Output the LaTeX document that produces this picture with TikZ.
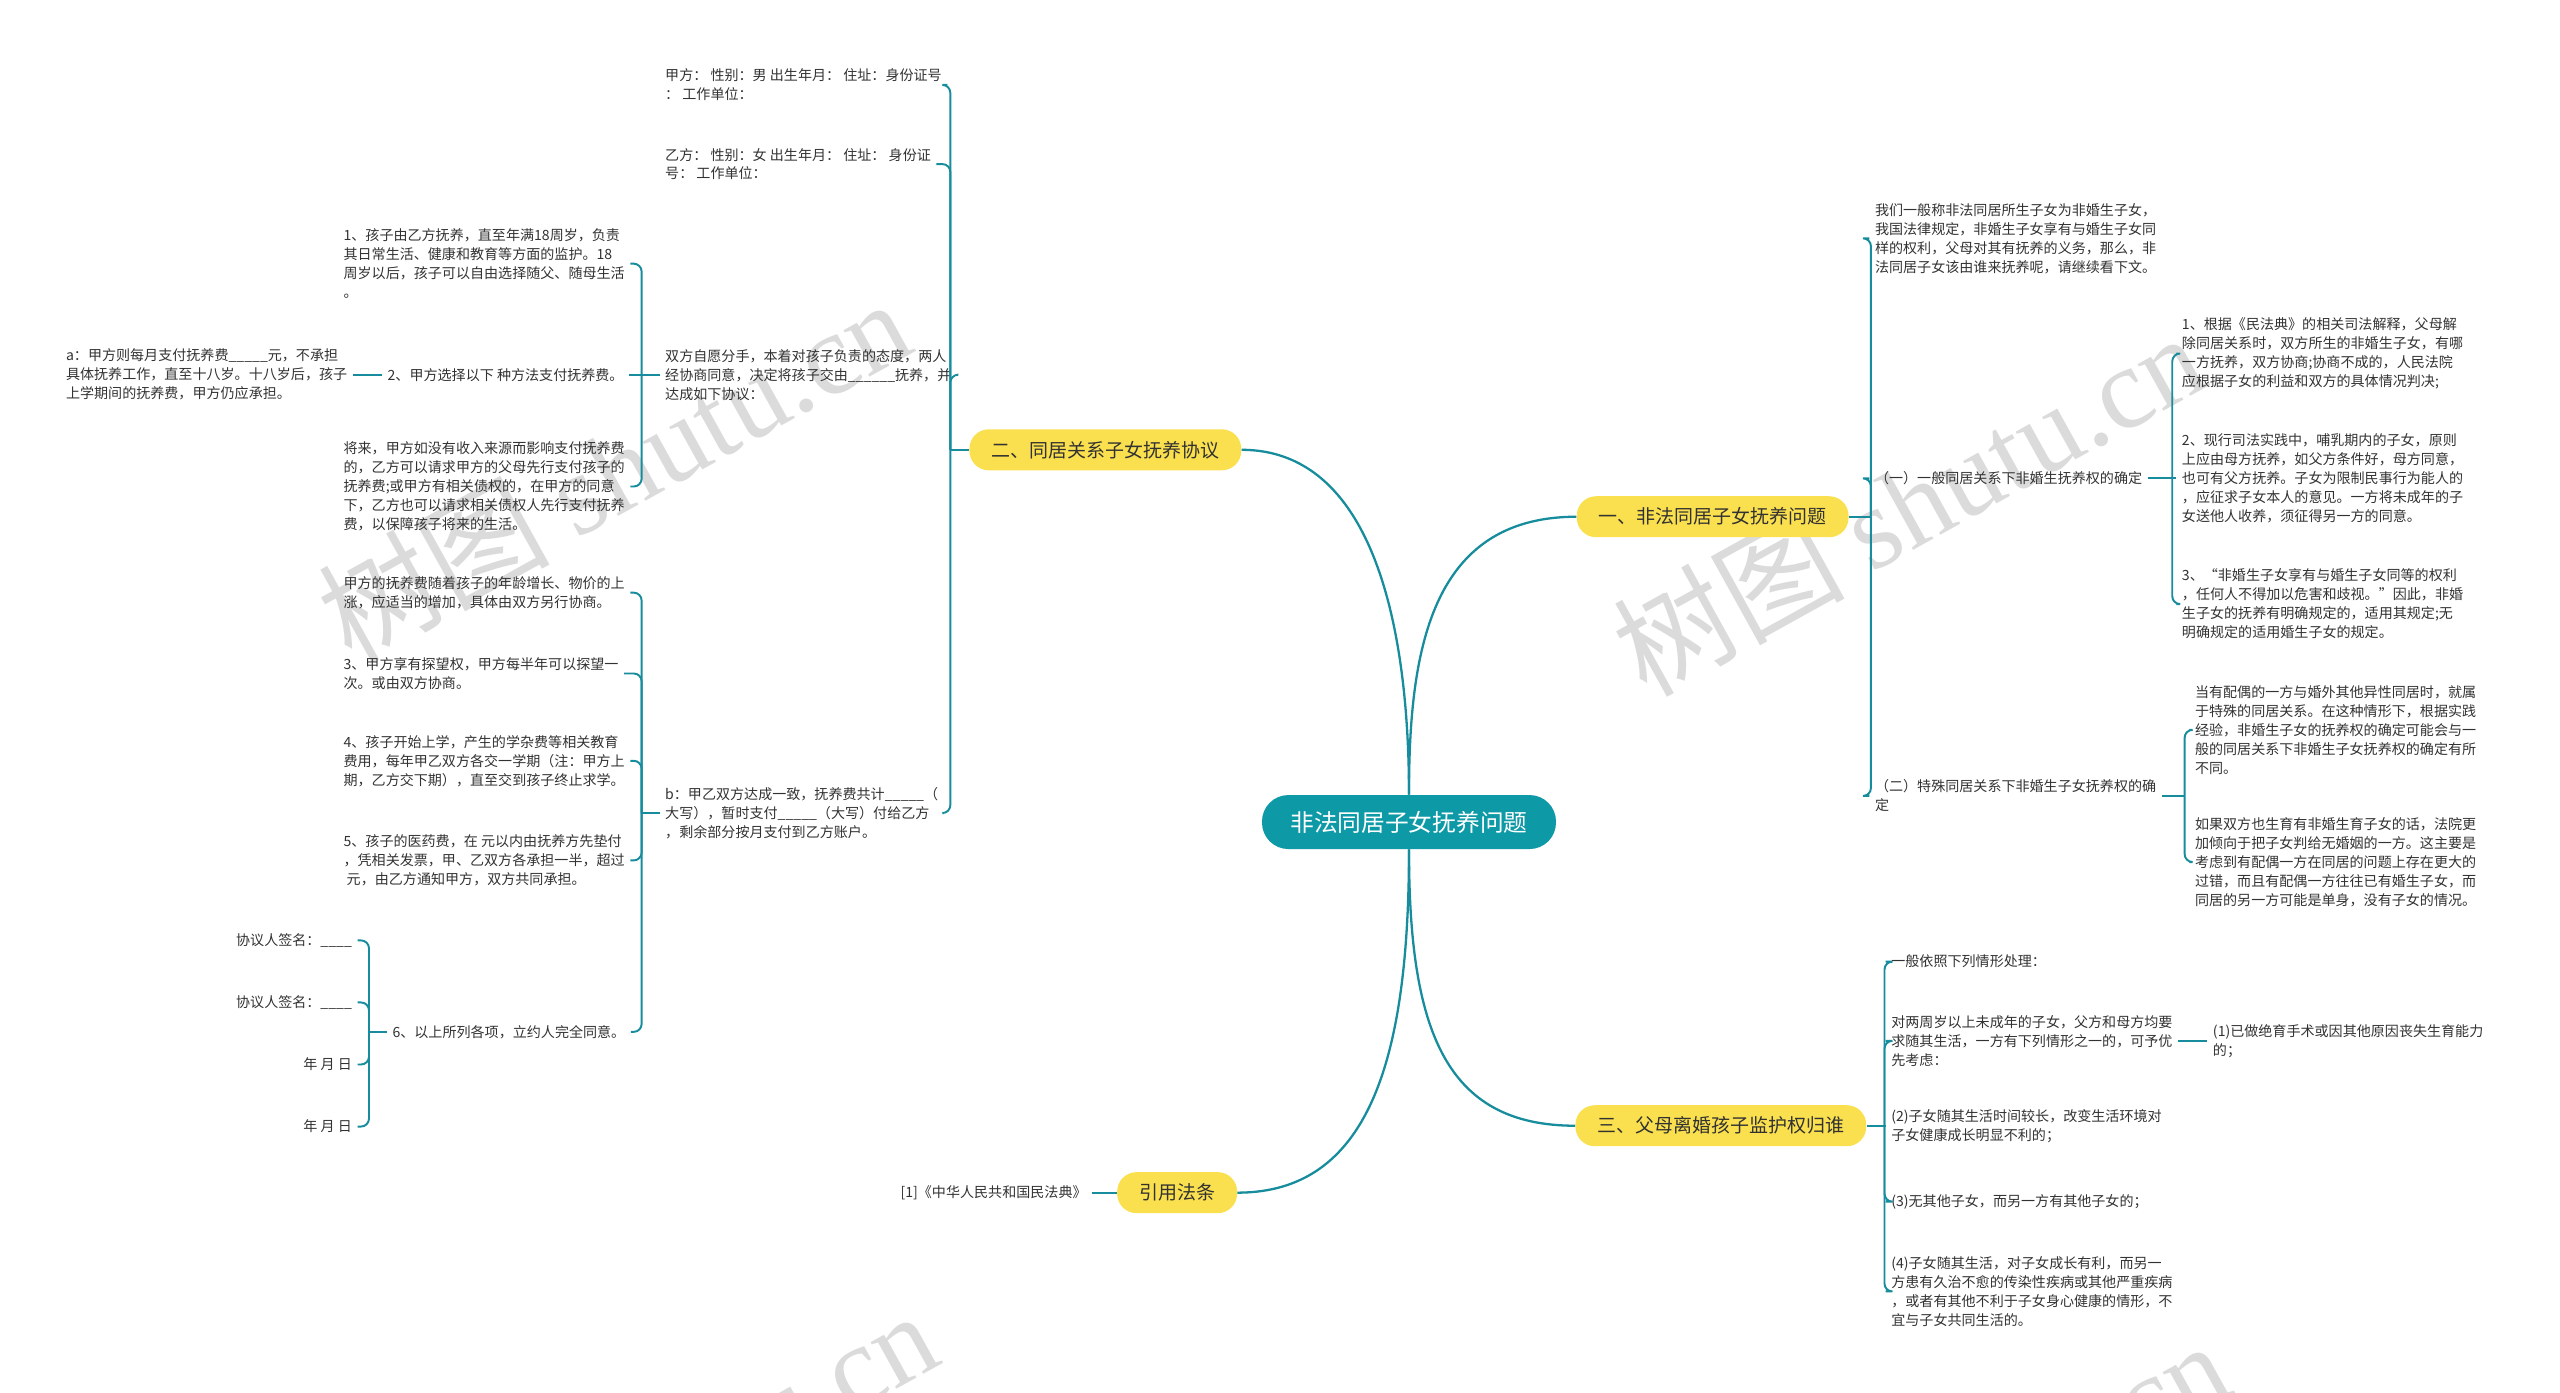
\documentclass[tikz,border=0pt]{standalone}
\usepackage{fontspec}
\setmainfont{Noto Sans CJK SC}
\newfontfamily\wmfont{Liberation Serif}
\definecolor{teal0}{RGB}{22,140,156}
\definecolor{rootfill}{RGB}{14,153,167}
\definecolor{topicfill}{RGB}{250,224,78}
\definecolor{ink}{RGB}{50,50,50}
\tikzset{rootbox/.style={fill=rootfill,text=white,rounded corners=15pt,minimum width=5.88cm,minimum height=1.08cm,font=\fontsize{13.5}{16}\selectfont},
  topicbox/.style={fill=topicfill,text=ink,rounded corners=11pt,minimum height=0.82cm,inner xsep=0.44cm,font=\fontsize{10.8}{13}\selectfont},
  leaftxt/.style={text=ink,align=left,inner xsep=3pt,inner ysep=0pt,font=\fontsize{8}{10.8}\selectfont},
  lk/.style={draw=teal0,line width=1.1pt,rounded corners=4.5pt},
  trunk/.style={draw=teal0,line width=1.3pt},
  wm/.style={anchor=base west,rotate=29,inner sep=0pt,text=black!14,font=\fontsize{66}{66}\selectfont}}
\begin{document}
\begin{tikzpicture}[x=0.03266cm,y=-0.03266cm]
\useasboundingbox (0,0) rectangle (1568,853);
\begin{scope}
\clip (0,0) rectangle (1568,853);
\foreach \wx/\wy in {215/407,1008/428,232/1027,1023/1045}
  \node[wm] at (\wx,\wy) {树图 {\wmfont shutu.cn}};
\end{scope}
\node[rootbox] (c) at (863,503.5) {非法同居子女抚养问题};
\node[topicbox] (t2) at (677,275.5) {二、同居关系子女抚养协议};
\node[topicbox] (t1) at (1049,316.5) {一、非法同居子女抚养问题};
\node[topicbox] (t3) at (1054,689.5) {三、父母离婚孩子监护权归谁};
\node[topicbox] (t4) at (721,730.5) {引用法条};
\draw[trunk] (c.north) .. controls +(0,-107) and +(79,0) .. (t2.east);
\draw[trunk] (c.north) .. controls +(0,-87) and +(-90,0) .. (t1.west);
\draw[trunk] (c.south) .. controls +(0,110) and +(-80,0) .. (t3.west);
\draw[trunk] (c.south) .. controls +(0,130) and +(80,0) .. (t4.east);
% 一
\node[leaftxt,anchor=west] (a0) at (1145,146) {我们一般称非法同居所生子女为非婚生子女，\\我国法律规定，非婚生子女享有与婚生子女同\\样的权利，父母对其有抚养的义务，那么，非\\法同居子女该由谁来抚养呢，请继续看下文。};
\node[leaftxt,anchor=west] (a1) at (1145,293) {（一）一般同居关系下非婚生抚养权的确定};
\node[leaftxt,anchor=west] (a2) at (1145,487.5) {（二）特殊同居关系下非婚生子女抚养权的确\\定};
\draw[lk] (t1.east) -- ++(13.5,0) coordinate (t1b);
\foreach \n in {a0,a1,a2} \draw[lk] (t1b) |- (\n.west);
\node[leaftxt,anchor=west] (a11) at (1333,216.5) {1、根据《民法典》的相关司法解释，父母解\\除同居关系时，双方所生的非婚生子女，有哪\\一方抚养，双方协商;协商不成的，人民法院\\应根据子女的利益和双方的具体情况判决;};
\node[leaftxt,anchor=west] (a12) at (1333,293) {2、现行司法实践中，哺乳期内的子女，原则\\上应由母方抚养，如父方条件好，母方同意，\\也可有父方抚养。子女为限制民事行为能人的\\，应征求子女本人的意见。一方将未成年的子\\女送他人收养，须征得另一方的同意。};
\node[leaftxt,anchor=west] (a13) at (1333,370) {3、“非婚生子女享有与婚生子女同等的权利\\，任何人不得加以危害和歧视。”因此，非婚\\生子女的抚养有明确规定的，适用其规定;无\\明确规定的适用婚生子女的规定。};
\draw[lk] (a1.east) -- ++(15,0) coordinate (a1b);
\draw[lk] (a1b) |- (a11.west); \draw[lk] (a1b) -- (a12.west); \draw[lk] (a1b) |- (a13.west);
\node[leaftxt,anchor=west] (a21) at (1341,447) {当有配偶的一方与婚外其他异性同居时，就属\\于特殊的同居关系。在这种情形下，根据实践\\经验，非婚生子女的抚养权的确定可能会与一\\般的同居关系下非婚生子女抚养权的确定有所\\不同。};
\node[leaftxt,anchor=west] (a22) at (1341,528) {如果双方也生育有非婚生育子女的话，法院更\\加倾向于把子女判给无婚姻的一方。这主要是\\考虑到有配偶一方在同居的问题上存在更大的\\过错，而且有配偶一方往往已有婚生子女，而\\同居的另一方可能是单身，没有子女的情况。};
\draw[lk] (a2.east) -- ++(14,0) coordinate (a2b);
\foreach \n in {a21,a22} \draw[lk] (a2b) |- (\n.west);
% 三
\node[leaftxt,anchor=west] (b0) at (1155,589) {一般依照下列情形处理：};
\node[leaftxt,anchor=west] (b1) at (1155,637.5) {对两周岁以上未成年的子女，父方和母方均要\\求随其生活，一方有下列情形之一的，可予优\\先考虑：};
\node[leaftxt,anchor=west] (b11) at (1352,637.5) {(1)已做绝育手术或因其他原因丧失生育能力\\的；};
\node[leaftxt,anchor=west] (b2) at (1155,689.5) {(2)子女随其生活时间较长，改变生活环境对\\子女健康成长明显不利的；};
\node[leaftxt,anchor=west] (b3) at (1155,736) {(3)无其他子女，而另一方有其他子女的；};
\node[leaftxt,anchor=west] (b4) at (1155,791) {(4)子女随其生活，对子女成长有利，而另一\\方患有久治不愈的传染性疾病或其他严重疾病\\，或者有其他不利于子女身心健康的情形，不\\宜与子女共同生活的。};
\draw[lk] (t3.east) -- ++(11,0) coordinate (t3b);
\foreach \n in {b0,b1,b3,b4} \draw[lk] (t3b) |- (\n.west);
\draw[lk] (t3b) -- (b2.west);
\draw[lk] (b1.east) -- (b11.west);
% 二
\node[leaftxt,anchor=west] (la) at (404,52) {甲方：  性别：男 出生年月：  住址：身份证号\\：  工作单位：};
\node[leaftxt,anchor=west] (lb) at (404,100.5) {乙方：  性别：女 出生年月：  住址：  身份证\\号：  工作单位：};
\node[leaftxt,anchor=west] (lc) at (404,229.5) {双方自愿分手，本着对孩子负责的态度，两人\\经协商同意，决定将孩子交由\_\_\_\_\_\_抚养，并\\达成如下协议：};
\node[leaftxt,anchor=west] (ld) at (404,498) {b：甲乙双方达成一致，抚养费共计\_\_\_\_\_（\\大写），暂时支付\_\_\_\_\_（大写）付给乙方\\，剩余部分按月支付到乙方账户。};
\draw[lk] (t2.west) -- ++(-11.5,0) coordinate (t2b);
\foreach \n in {la,lb,lc,ld} \draw[lk] (t2b) |- (\n.east);
\node[leaftxt,anchor=west] (ma) at (207,161.5) {1、孩子由乙方抚养，直至年满18周岁，负责\\其日常生活、健康和教育等方面的监护。18\\周岁以后，孩子可以自由选择随父、随母生活\\。};
\node[leaftxt,anchor=west] (mb) at (234,229.5) {2、甲方选择以下 种方法支付抚养费。};
\node[leaftxt,anchor=west] (mc) at (37,229.5) {a：甲方则每月支付抚养费\_\_\_\_\_元，不承担\\具体抚养工作，直至十八岁。十八岁后，孩子\\上学期间的抚养费，甲方仍应承担。};
\node[leaftxt,anchor=west] (md) at (207,298) {将来，甲方如没有收入来源而影响支付抚养费\\的，乙方可以请求甲方的父母先行支付孩子的\\抚养费;或甲方有相关债权的，在甲方的同意\\下，乙方也可以请求相关债权人先行支付抚养\\费，以保障孩子将来的生活。};
\draw[lk] (lc.west) -- ++(-11,0) coordinate (lcb);
\draw[lk] (lcb) |- (ma.east); \draw[lk] (lcb) -- (mb.east); \draw[lk] (lcb) |- (md.east);
\draw[lk] (mb.west) -- (mc.east);
\node[leaftxt,anchor=west] (na) at (207,363) {甲方的抚养费随着孩子的年龄增长、物价的上\\涨，应适当的增加，具体由双方另行协商。};
\node[leaftxt,anchor=west] (nb) at (207,412.5) {3、甲方享有探望权，甲方每半年可以探望一\\次。或由双方协商。};
\node[leaftxt,anchor=west] (nc) at (207,466) {4、孩子开始上学，产生的学杂费等相关教育\\费用，每年甲乙双方各交一学期（注：甲方上\\期，乙方交下期），直至交到孩子终止求学。};
\node[leaftxt,anchor=west] (nd) at (207,527) {5、孩子的医药费，在 元以内由抚养方先垫付\\，凭相关发票，甲、乙双方各承担一半，超过\\\ 元，由乙方通知甲方，双方共同承担。};
\node[leaftxt,anchor=west] (ne) at (237,632) {6、以上所列各项，立约人完全同意。};
\draw[lk] (ld.west) -- ++(-11,0) coordinate (ldb);
\foreach \n in {na,nb,nc,nd,ne} \draw[lk] (ldb) |- (\n.east);
\node[leaftxt,anchor=east] (pa) at (219,576) {协议人签名：\_\_\_\_};
\node[leaftxt,anchor=east] (pb) at (219,614) {协议人签名：\_\_\_\_};
\node[leaftxt,anchor=east] (pc) at (219,652) {年 月 日};
\node[leaftxt,anchor=east] (pd) at (219,690) {年 月 日};
\draw[lk] (ne.west) -- ++(-11,0) coordinate (neb);
\foreach \n in {pa,pb,pc,pd} \draw[lk] (neb) |- (\n.east);
% 引用法条
\node[leaftxt,anchor=east] (lw) at (669,730.5) {[1]《中华人民共和国民法典》};
\draw[lk] (lw.east) -- (t4.west);
\end{tikzpicture}
\end{document}
